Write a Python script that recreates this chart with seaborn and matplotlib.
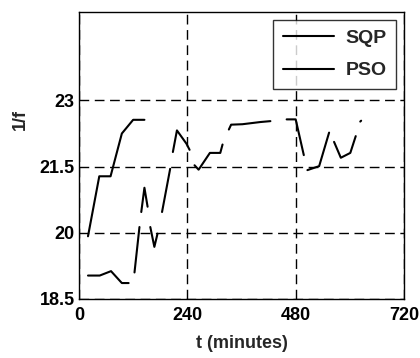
import pandas as pd
import matplotlib
matplotlib.use("Agg")
import matplotlib.pyplot as plt
import seaborn as sns

# =========================
# DATA
# =========================
sqp_t = [20, 45, 70, 95, 120, 145,
         138, 145, 152,
         184, 202,
         208, 217, 238, 245,
         256, 265, 290, 313, 318,
         332, 337, 362, 402, 424,
         460, 480, 498,
         506, 532, 554,
         565, 580, 601, 613,
         623, 625]
sqp_f = [19.92, 21.28, 21.28, 22.25, 22.56, 22.56,
         20.47, 21.02, 20.59,
         20.47, 21.45,
         21.83, 22.32, 22.02, 21.88,
         21.53, 21.43, 21.81, 21.81, 22.0,
         22.34, 22.45, 22.46, 22.51, 22.53,
         22.57, 22.57, 21.76,
         21.42, 21.51, 22.27,
         22.06, 21.70, 21.81, 22.19,
         22.52, 22.54]
sqp_seg = [1] * 6 + [2] * 3 + [3] * 2 + [4] * 4 + [5] * 5 + [6] * 5 + [7] * 3 + [8] * 3 + [9] * 4 + [10] * 2

pso_t = [20, 46, 71, 95, 110,
         123, 134,
         158, 167, 174]
pso_f = [19.03, 19.03, 19.13, 18.86, 18.86,
         19.10, 20.13,
         20.13, 19.68, 19.98]
pso_seg = [11] * 5 + [12] * 2 + [13] * 3

x_ticks = [0, 240, 480, 720]
y_ticks = [18.5, 20, 21.5, 23]

df = pd.concat([
    pd.DataFrame({"t": sqp_t, "f": sqp_f, "seg": sqp_seg, "method": "SQP"}),
    pd.DataFrame({"t": pso_t, "f": pso_f, "seg": pso_seg, "method": "PSO"}),
], ignore_index=True)

# =========================
# STYLE
# =========================
sns.set_style("white")
plt.rcParams["font.family"] = ["Liberation Sans", "DejaVu Sans"]
plt.rcParams["font.weight"] = "bold"

fig = plt.figure(figsize=(4.2, 3.58), dpi=100)
ax = fig.add_axes([0.188, 0.165, 0.774, 0.801])

sns.lineplot(data=df, x="t", y="f", hue="method", units="seg", estimator=None,
             sort=False, palette={"SQP": "black", "PSO": "black"},
             linewidth=1.5, ax=ax)

ax.set_xlim(0, 720)
ax.set_ylim(18.5, 25)
ax.set_xticks(x_ticks)
ax.set_xticklabels([str(v) for v in x_ticks])
ax.set_yticks(y_ticks)
ax.set_yticklabels(["18.5", "20", "21.5", "23"])

ax.grid(True, color="black", linestyle=(0, (7, 4)), linewidth=1.0)
for s in ax.spines.values():
    s.set_color("black")
    s.set_linewidth(1.0)
ax.tick_params(direction="in", length=3, colors="black", labelsize=13)
ax.tick_params(axis="x", pad=6)
ax.tick_params(axis="y", pad=3)

ax.set_xlabel("t (minutes)", fontsize=13, fontweight="bold", labelpad=8)
ax.set_ylabel("1/f", fontsize=13, fontweight="bold")
ax.yaxis.set_label_coords(-0.155, 0.627)

leg = ax.legend(loc="upper right", fontsize=14, frameon=True, fancybox=False,
                edgecolor="black", handlelength=2.6, labelspacing=0.75,
                borderaxespad=0.4, handletextpad=0.6, borderpad=0.5)
leg.get_frame().set_linewidth(1.0)
for txt in leg.get_texts():
    txt.set_fontweight("bold")

fig.savefig("out.png", dpi=100)
